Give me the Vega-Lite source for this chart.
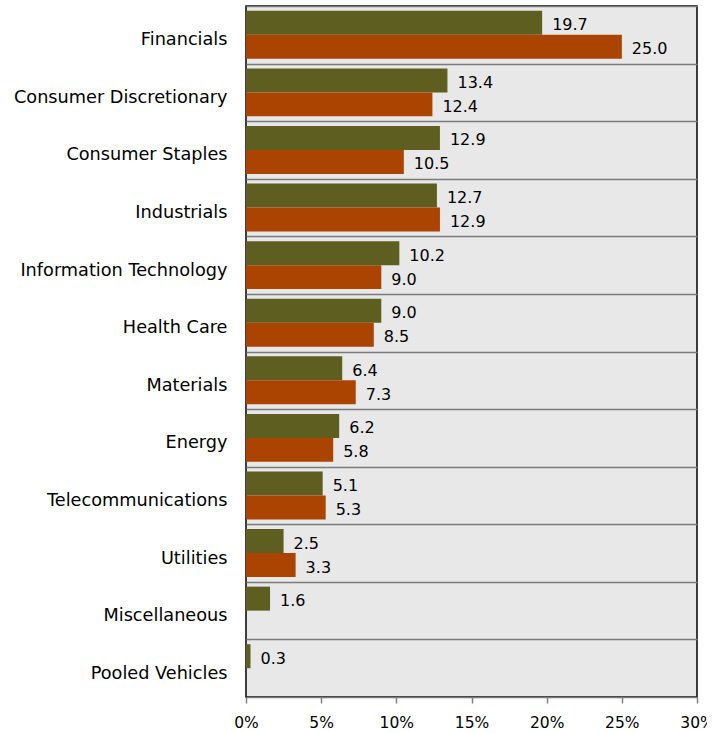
{
  "$schema": "https://vega.github.io/schema/vega-lite/v6.json",
  "autosize": "none",
  "width": 451,
  "height": 691,
  "padding": {"left": 246, "top": 6, "right": 10, "bottom": 36},
  "background": "white",
  "config": {
    "view": {"stroke": "black", "strokeWidth": 1.5, "fill": "#e8e8e8"},
    "font": "DejaVu Sans"
  },
  "data": {
    "values": [
      {"sector": "Financials", "series": "A", "value": 19.7},
      {"sector": "Financials", "series": "B", "value": 25.0},
      {"sector": "Consumer Discretionary", "series": "A", "value": 13.4},
      {"sector": "Consumer Discretionary", "series": "B", "value": 12.4},
      {"sector": "Consumer Staples", "series": "A", "value": 12.9},
      {"sector": "Consumer Staples", "series": "B", "value": 10.5},
      {"sector": "Industrials", "series": "A", "value": 12.7},
      {"sector": "Industrials", "series": "B", "value": 12.9},
      {"sector": "Information Technology", "series": "A", "value": 10.2},
      {"sector": "Information Technology", "series": "B", "value": 9.0},
      {"sector": "Health Care", "series": "A", "value": 9.0},
      {"sector": "Health Care", "series": "B", "value": 8.5},
      {"sector": "Materials", "series": "A", "value": 6.4},
      {"sector": "Materials", "series": "B", "value": 7.3},
      {"sector": "Energy", "series": "A", "value": 6.2},
      {"sector": "Energy", "series": "B", "value": 5.8},
      {"sector": "Telecommunications", "series": "A", "value": 5.1},
      {"sector": "Telecommunications", "series": "B", "value": 5.3},
      {"sector": "Utilities", "series": "A", "value": 2.5},
      {"sector": "Utilities", "series": "B", "value": 3.3},
      {"sector": "Miscellaneous", "series": "A", "value": 1.6},
      {"sector": "Pooled Vehicles", "series": "A", "value": 0.3}
    ]
  },
  "encoding": {
    "y": {
      "field": "sector",
      "type": "nominal",
      "sort": ["Financials", "Consumer Discretionary", "Consumer Staples", "Industrials", "Information Technology", "Health Care", "Materials", "Energy", "Telecommunications", "Utilities", "Miscellaneous", "Pooled Vehicles"],
      "scale": {"paddingInner": 0, "paddingOuter": 0},
      "axis": {
        "title": null,
        "domain": false,
        "ticks": false,
        "tickBand": "extent",
        "grid": true,
        "gridColor": "#7a7a7a",
        "gridWidth": 1.5,
        "labelFont": "DejaVu Sans",
        "labelFontSize": 17.7,
        "labelColor": "black",
        "labelPadding": 19,
        "labelOffset": 5,
        "labelLimit": 300
      }
    },
    "yOffset": {
      "field": "series",
      "type": "nominal",
      "scale": {"domain": ["A", "B"], "paddingInner": 0, "paddingOuter": 0.2}
    },
    "x": {
      "field": "value",
      "type": "quantitative",
      "scale": {"domain": [0, 30], "nice": false},
      "axis": {
        "title": null,
        "domain": false,
        "grid": false,
        "values": [0, 5, 10, 15, 20, 25, 30],
        "labelExpr": "datum.value + '%'",
        "tickColor": "#808080",
        "tickWidth": 1.5,
        "tickSize": 6,
        "labelFont": "DejaVu Sans",
        "labelFontSize": 15.5,
        "labelColor": "black",
        "labelPadding": 12,
        "labelFlush": false
      }
    }
  },
  "layer": [
    {
      "mark": {"type": "bar"},
      "encoding": {
        "color": {
          "field": "series",
          "type": "nominal",
          "scale": {"domain": ["A", "B"], "range": ["#5e5e20", "#aa4400"]},
          "legend": null
        }
      }
    },
    {
      "mark": {"type": "text", "align": "left", "baseline": "middle", "dx": 10, "dy": 2.5, "fontSize": 16, "font": "DejaVu Sans", "color": "black"},
      "encoding": {
        "text": {"field": "value", "type": "quantitative", "format": ".1f"}
      }
    }
  ]
}
